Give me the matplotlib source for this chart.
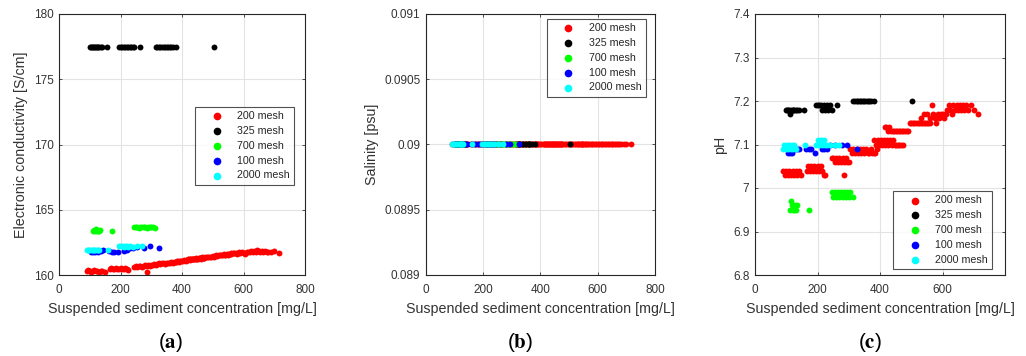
import matplotlib
matplotlib.use("Agg")
import matplotlib.pyplot as plt

plt.rcParams['font.family'] = ['Liberation Sans', 'DejaVu Sans']
plt.rcParams['mathtext.fontset'] = 'stix'

# ---------------- data ----------------
series_names = ["200 mesh", "325 mesh", "700 mesh", "100 mesh", "2000 mesh"]
series_colors = ["#ff0000", "#000000", "#00ff00", "#0000ff", "#00ffff"]

x_red = [90, 95, 100, 105, 110, 115, 120, 125, 130, 135, 140, 148,
         165, 170, 175, 180, 185, 190, 195, 200, 205, 210, 215, 220, 225,
         245, 250, 255, 260, 265, 270, 275, 280, 285, 290, 295, 300, 285,
         305, 310, 315, 320, 325, 330, 335, 340, 345, 350, 355, 360, 365, 370, 375, 380, 385, 390,
         382, 387, 392, 397, 402, 407, 412, 417, 422, 427, 432, 437, 442, 447, 452, 457, 462, 467, 472,
         415, 420, 425, 430, 435, 440, 445, 450, 455, 460, 465, 470, 475, 480, 485, 490,
         495, 500, 505, 510, 515, 520, 525, 530, 535, 540, 545, 550, 555, 560,
         530, 540, 550, 560, 565, 570, 575, 580, 585, 590, 595, 600,
         605, 610, 615, 620, 625, 630, 635, 640, 645, 650, 655, 660, 665, 670, 675, 680, 690, 700, 715]
ec_red = [160.30, 160.35, 160.30, 160.25, 160.30, 160.35, 160.30, 160.30, 160.25, 160.30, 160.30, 160.25,
          160.45, 160.50, 160.45, 160.45, 160.50, 160.45, 160.45, 160.50, 160.45, 160.45, 160.50, 160.45, 160.40,
          160.65, 160.70, 160.65, 160.70, 160.70, 160.65, 160.70, 160.75, 160.70, 160.75, 160.70, 160.75, 160.25,
          160.80, 160.85, 160.80, 160.85, 160.90, 160.85, 160.90, 160.90, 160.85, 160.95, 160.90, 160.95, 161.00, 160.95, 161.00, 161.00, 161.05, 161.00,
          161.00, 161.05, 161.10, 161.05, 161.10, 161.15, 161.10, 161.15, 161.20, 161.15, 161.20, 161.20, 161.25, 161.20, 161.25, 161.30, 161.25, 161.30, 161.30,
          161.15, 161.20, 161.20, 161.25, 161.20, 161.25, 161.30, 161.25, 161.30, 161.30, 161.35, 161.30, 161.35, 161.40, 161.35, 161.40,
          161.40, 161.45, 161.40, 161.50, 161.45, 161.50, 161.55, 161.50, 161.60, 161.55, 161.60, 161.55, 161.60, 161.65,
          161.50, 161.55, 161.60, 161.60, 161.70, 161.65, 161.70, 161.60, 161.75, 161.70, 161.80, 161.70,
          161.60, 161.75, 161.80, 161.75, 161.85, 161.80, 161.85, 161.80, 161.90, 161.85, 161.80, 161.85, 161.80, 161.85, 161.80, 161.75, 161.80, 161.85, 161.70]
ph_red = [7.04, 7.03, 7.04, 7.03, 7.04, 7.03, 7.04, 7.03, 7.04, 7.03, 7.04, 7.03,
          7.04, 7.05, 7.04, 7.05, 7.04, 7.05, 7.04, 7.05, 7.04, 7.05, 7.04, 7.03, 7.03,
          7.07, 7.07, 7.06, 7.07, 7.06, 7.07, 7.06, 7.07, 7.06, 7.07, 7.06, 7.06, 7.03,
          7.09, 7.08, 7.09, 7.08, 7.09, 7.08, 7.09, 7.08, 7.09, 7.08, 7.09, 7.08, 7.08, 7.09, 7.08, 7.08, 7.08, 7.09,
          7.11, 7.10, 7.11, 7.10, 7.11, 7.10, 7.11, 7.10, 7.11, 7.10, 7.11, 7.10, 7.11, 7.10, 7.10, 7.10, 7.10, 7.10, 7.10,
          7.14, 7.14, 7.13, 7.14, 7.13, 7.13, 7.13, 7.13, 7.13, 7.13, 7.13, 7.13, 7.13, 7.13, 7.13, 7.13,
          7.15, 7.15, 7.15, 7.15, 7.15, 7.15, 7.15, 7.15, 7.15, 7.15, 7.15, 7.15, 7.15, 7.15,
          7.16, 7.17, 7.17, 7.16, 7.19, 7.17, 7.16, 7.15, 7.17, 7.16, 7.17, 7.17,
          7.16, 7.17, 7.18, 7.19, 7.18, 7.17, 7.19, 7.18, 7.19, 7.18, 7.19, 7.18, 7.19, 7.18, 7.19, 7.18, 7.19, 7.18, 7.17]

x_black = [100, 103, 106, 110, 113, 116, 120, 123, 126, 130, 135, 140, 157,
           195, 200, 205, 210, 215, 220, 225, 230, 235, 240, 245, 262,
           315, 320, 325, 330, 335, 340, 345, 350, 355, 360, 365, 370, 380,
           503]
ec_black = [177.50, 177.50, 177.50, 177.50, 177.45, 177.50, 177.50, 177.50, 177.50, 177.50, 177.50, 177.50, 177.50,
            177.50, 177.50, 177.50, 177.50, 177.50, 177.50, 177.50, 177.50, 177.50, 177.50, 177.50, 177.50,
            177.50, 177.50, 177.50, 177.50, 177.50, 177.50, 177.50, 177.50, 177.50, 177.50, 177.50, 177.50, 177.50,
            177.50]
ph_black = [7.18, 7.18, 7.18, 7.18, 7.17, 7.18, 7.18, 7.18, 7.18, 7.18, 7.18, 7.18, 7.18,
            7.19, 7.19, 7.19, 7.19, 7.18, 7.19, 7.18, 7.19, 7.18, 7.19, 7.18, 7.19,
            7.20, 7.20, 7.20, 7.20, 7.20, 7.20, 7.20, 7.20, 7.20, 7.20, 7.20, 7.20, 7.20,
            7.20]

x_green = [112, 115, 118, 120, 122, 125, 128, 130, 133,
           172,
           245, 250, 255, 260, 265, 270, 275, 280, 285, 290, 295, 300, 305, 312]
ec_green = [163.35, 163.45, 163.40, 163.50, 163.35, 163.45, 163.40, 163.35, 163.45,
            163.40,
            163.65, 163.70, 163.65, 163.60, 163.70, 163.65, 163.70, 163.65, 163.60, 163.70, 163.65, 163.65, 163.70, 163.60]
ph_green = [6.95, 6.97, 6.96, 6.95, 6.96, 6.95, 6.96, 6.95, 6.96,
            6.95,
            6.99, 6.98, 6.99, 6.98, 6.99, 6.98, 6.99, 6.98, 6.99, 6.98, 6.99, 6.98, 6.99, 6.98]

x_blue = [105, 112, 118, 128, 135, 142, 162, 172, 180, 192, 213, 222, 230, 240, 255, 278, 295, 325]
ec_blue = [161.80, 161.80, 161.75, 161.80, 161.85, 161.90, 161.85, 161.80, 161.80, 161.80,
           161.85, 161.95, 162.10, 162.10, 162.15, 162.05, 162.20, 162.05]
ph_blue = [7.08, 7.08, 7.08, 7.09, 7.09, 7.09, 7.09, 7.09, 7.09, 7.08,
           7.09, 7.09, 7.09, 7.10, 7.10, 7.10, 7.10, 7.09]

x_cyan = [90, 94, 98, 102, 106, 110, 114, 118, 122, 126, 130,
          160,
          195, 200, 205, 210, 215, 220, 225, 230, 240, 255, 270]
ec_cyan = [161.90, 161.95, 161.90, 161.90, 161.95, 161.90, 161.95, 161.90, 161.90, 161.95, 161.90,
           161.90,
           162.20, 162.25, 162.20, 162.15, 162.25, 162.20, 162.15, 162.20, 162.15, 162.20, 162.25]
ph_cyan = [7.09, 7.10, 7.09, 7.10, 7.09, 7.10, 7.09, 7.10, 7.09, 7.10, 7.09,
           7.10,
           7.10, 7.11, 7.10, 7.11, 7.10, 7.11, 7.10, 7.10, 7.10, 7.10, 7.10]

salinity_value = 0.09  # every sample reads 0.09 psu

x_all = [x_red, x_black, x_green, x_blue, x_cyan]
ec_all = [ec_red, ec_black, ec_green, ec_blue, ec_cyan]
ph_all = [ph_red, ph_black, ph_green, ph_blue, ph_cyan]

x_ticks = [0, 200, 400, 600, 800]
x_ticks_c = [0, 200, 400, 600]
ec_ticks = [160, 165, 170, 175, 180]
sal_ticks = [0.089, 0.0895, 0.09, 0.0905, 0.091]
sal_tick_labels = ["0.089", "0.0895", "0.09", "0.0905", "0.091"]
ph_ticks = [6.8, 6.9, 7.0, 7.1, 7.2, 7.3, 7.4]
ph_tick_labels = ["6.8", "6.9", "7", "7.1", "7.2", "7.3", "7.4"]

x_label = "Suspended sediment concentration [mg/L]"
panel_letters = ["a", "b", "c"]

# ---------------- figure ----------------
fig = plt.figure(figsize=(10.26, 3.56), dpi=100)
W, H = 1026, 356
boxes = [(59, 305), (426, 655), (755, 1005)]
top_px, bot_px = 14, 275
axes = [fig.add_axes([l / W, 1 - bot_px / H, (r - l) / W, (bot_px - top_px) / H]) for l, r in boxes]

tick_col = "#333333"
lab_fs = 10.3
for ax in axes:
    ax.set_axisbelow(True)
    ax.grid(True, color="#e3e3e3", linewidth=0.8)
    for sp in ax.spines.values():
        sp.set_color("#262626")
        sp.set_linewidth(0.8)
    ax.tick_params(direction="in", length=2.5, width=0.6, colors=tick_col, labelsize=8.5,
                   top=True, right=True)
    ax.tick_params(axis="x", pad=6.5)
    ax.tick_params(axis="y", pad=4)
    ax.set_xlabel(x_label, fontsize=lab_fs, color=tick_col, labelpad=4)

ms = 18
# (a)
ax = axes[0]
for xs, ys, c, n in zip(x_all, ec_all, series_colors, series_names):
    ax.scatter(xs, ys, s=ms, c=c, linewidths=0, label=n)
ax.set_xlim(0, 800)
ax.set_ylim(160, 180)
ax.set_xticks(x_ticks)
ax.set_yticks(ec_ticks)
ax.set_ylabel("Electronic conductivity [S/cm]", fontsize=lab_fs, color=tick_col)

# (b)
ax = axes[1]
for xs, c, n in zip(x_all, series_colors, series_names):
    ax.scatter(xs, [salinity_value] * len(xs), s=ms, c=c, linewidths=0, label=n)
ax.set_xlim(0, 800)
ax.set_ylim(0.089, 0.091)
ax.set_xticks(x_ticks)
ax.set_yticks(sal_ticks)
ax.set_yticklabels(sal_tick_labels)
ax.set_ylabel("Salinity [psu]", fontsize=lab_fs, color=tick_col)

# (c)
ax = axes[2]
for xs, ys, c, n in zip(x_all, ph_all, series_colors, series_names):
    ax.scatter(xs, ys, s=ms, c=c, linewidths=0, label=n)
ax.set_xlim(0, 800)
ax.set_ylim(6.8, 7.4)
ax.set_xticks(x_ticks_c)
ax.set_yticks(ph_ticks)
ax.set_yticklabels(ph_tick_labels)
ax.set_ylabel("pH", fontsize=lab_fs, color=tick_col)

leg_kw = dict(fontsize=7.7, frameon=True, fancybox=False, edgecolor="#262626",
              handletextpad=0.25, handlelength=3.3, borderpad=0.4, labelspacing=0.45,
              markerscale=1.3, borderaxespad=0)
legs = [
    axes[0].legend(loc="upper left", bbox_to_anchor=(0.553, 0.644), **leg_kw),
    axes[1].legend(loc="upper right", bbox_to_anchor=(0.96, 0.981), **leg_kw),
    axes[2].legend(loc="lower right", bbox_to_anchor=(0.948, 0.023), **leg_kw),
]
for lg in legs:
    lg.get_frame().set_linewidth(0.8)
    for t in lg.get_texts():
        t.set_color("#262626")

letter_x = [171, 520, 870]
for cx, letter in zip(letter_x, panel_letters):
    fig.text(cx / W, 1 - 343 / H, "(" + r"$\mathbf{" + letter + "}$" + ")",
             ha="center", va="center", fontsize=15)

fig.savefig("out.png", dpi=100)
